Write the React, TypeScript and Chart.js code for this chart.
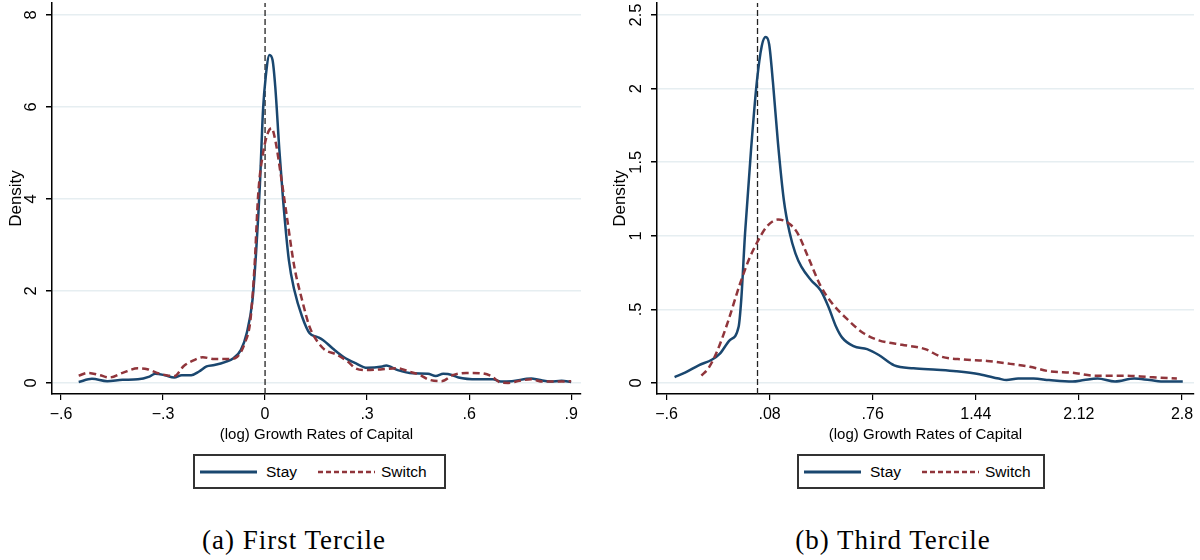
import React, { useEffect, useRef } from "react";
import { Chart, registerables } from "chart.js";

Chart.register(...registerables);

// ---------- Data: panel (a) First Tercile ----------
const stayAX = [-0.548, -0.509, -0.464, -0.419, -0.374, -0.34, -0.323, -0.295, -0.267, -0.245, -0.217, -0.194, -0.172, -0.149, -0.116, -0.093, -0.071, -0.054, -0.037, -0.026, -0.015, -0.006, 0.002, 0.013, 0.022, 0.03, 0.042, 0.053, 0.07, 0.086, 0.109, 0.131, 0.154, 0.171, 0.199, 0.232, 0.266, 0.3, 0.345, 0.356, 0.39, 0.434, 0.479, 0.502, 0.524, 0.552, 0.569, 0.625, 0.67, 0.693, 0.726, 0.783, 0.805, 0.839, 0.872, 0.9];
const stayAY = [0.02, 0.09, 0.04, 0.07, 0.08, 0.14, 0.2, 0.17, 0.12, 0.17, 0.17, 0.25, 0.36, 0.39, 0.46, 0.54, 0.72, 1.08, 1.8, 2.89, 4.34, 5.93, 6.66, 7.13, 7.02, 6.44, 5.07, 3.98, 2.67, 2.02, 1.44, 1.08, 1.0, 0.93, 0.75, 0.56, 0.43, 0.33, 0.36, 0.38, 0.28, 0.21, 0.2, 0.15, 0.2, 0.17, 0.12, 0.08, 0.08, 0.03, 0.04, 0.1, 0.07, 0.03, 0.05, 0.02];
const switchAX = [-0.548, -0.52, -0.486, -0.458, -0.419, -0.374, -0.346, -0.318, -0.284, -0.267, -0.239, -0.205, -0.183, -0.149, -0.104, -0.082, -0.06, -0.043, -0.031, -0.02, -0.006, 0.008, 0.019, 0.03, 0.047, 0.064, 0.086, 0.109, 0.131, 0.154, 0.176, 0.21, 0.244, 0.266, 0.3, 0.345, 0.39, 0.423, 0.457, 0.479, 0.519, 0.552, 0.592, 0.637, 0.665, 0.693, 0.715, 0.749, 0.783, 0.816, 0.85, 0.9];
const switchAY = [0.16, 0.22, 0.17, 0.12, 0.22, 0.32, 0.3, 0.22, 0.16, 0.15, 0.37, 0.51, 0.56, 0.52, 0.52, 0.57, 0.86, 1.37, 2.53, 4.12, 4.99, 5.43, 5.54, 5.28, 4.49, 3.62, 2.53, 1.8, 1.22, 0.9, 0.72, 0.62, 0.46, 0.32, 0.28, 0.3, 0.32, 0.25, 0.17, 0.08, 0.04, 0.17, 0.22, 0.21, 0.15, 0.01, 0.0, 0.05, 0.08, 0.03, 0.03, 0.04];
const xTicksA = [-0.6, -0.3, 0, 0.3, 0.6, 0.9];
const xLabelsA = ["\u2212.6", "\u2212.3", "0", ".3", ".6", ".9"];
const yTicksA = [0, 2, 4, 6, 8];
const yLabelsA = ["0", "2", "4", "6", "8"];

// ---------- Data: panel (b) Third Tercile ----------
const stayBX = [-0.547, -0.478, -0.388, -0.299, -0.248, -0.184, -0.125, -0.107, -0.082, -0.043, -0.005, 0.028, 0.054, 0.077, 0.102, 0.135, 0.174, 0.212, 0.25, 0.289, 0.352, 0.416, 0.467, 0.519, 0.557, 0.633, 0.723, 0.8, 0.902, 1.029, 1.183, 1.31, 1.464, 1.591, 1.642, 1.719, 1.821, 1.923, 2.077, 2.153, 2.243, 2.358, 2.485, 2.587, 2.69, 2.805];
const stayBY = [0.04, 0.07, 0.12, 0.16, 0.2, 0.29, 0.38, 0.57, 1.02, 1.58, 2.04, 2.29, 2.35, 2.3, 2.04, 1.63, 1.24, 1.02, 0.88, 0.79, 0.7, 0.63, 0.52, 0.38, 0.31, 0.25, 0.23, 0.19, 0.12, 0.1, 0.09, 0.08, 0.06, 0.03, 0.02, 0.03, 0.03, 0.02, 0.01, 0.02, 0.03, 0.01, 0.03, 0.02, 0.01, 0.01];
const switchBX = [-0.37, -0.324, -0.273, -0.197, -0.12, -0.056, 0, 0.059, 0.135, 0.199, 0.263, 0.34, 0.416, 0.493, 0.595, 0.697, 0.8, 0.953, 1.106, 1.208, 1.361, 1.515, 1.668, 1.796, 1.923, 2.077, 2.23, 2.409, 2.587, 2.766];
const switchBY = [0.05, 0.1, 0.2, 0.41, 0.66, 0.84, 0.96, 1.06, 1.11, 1.09, 1.02, 0.84, 0.66, 0.54, 0.43, 0.34, 0.29, 0.26, 0.23, 0.18, 0.16, 0.15, 0.13, 0.11, 0.08, 0.07, 0.05, 0.05, 0.04, 0.03];
const xTicksB = [-0.6, 0.08, 0.76, 1.44, 2.12, 2.8];
const xLabelsB = ["\u2212.6", ".08", ".76", "1.44", "2.12", "2.8"];
const yTicksB = [0, 0.5, 1, 1.5, 2, 2.5];
const yLabelsB = ["0", ".5", "1", "1.5", "2", "2.5"];

const seriesNames = ["Stay", "Switch"];
const xTitle = "(log) Growth Rates of Capital";
const yTitle = "Density";
const captions = ["(a) First Tercile", "(b) Third Tercile"];

const NAVY = "#1a476f";
const MAROON = "#90353b";
const SANS = "'Liberation Sans', Arial, Helvetica, sans-serif";
const SERIF = "'Liberation Serif', 'Times New Roman', serif";

type PanelProps = {
  left: number;
  yAxisWidth: number;
  rightPad: number;
  titlePad: number;
  xMin: number;
  xMax: number;
  yMin: number;
  yMax: number;
  stayX: number[];
  stayY: number[];
  switchX: number[];
  switchY: number[];
  xTicks: number[];
  xLabels: string[];
  yTicks: number[];
  yLabels: string[];
};

function Panel(p: PanelProps) {
  const ref = useRef<HTMLCanvasElement | null>(null);
  useEffect(() => {
    if (!ref.current) return;
    const rotYLabels = {
      id: "rotYLabels",
      afterDraw(chart: any) {
        const ys = chart.scales.y;
        const ctx = chart.ctx;
        ctx.save();
        ctx.fillStyle = "#000";
        ctx.font = `16.5px ${SANS}`;
        ctx.textAlign = "center";
        ctx.textBaseline = "middle";
        p.yTicks.forEach((v, i) => {
          const py = ys.getPixelForValue(v);
          ctx.save();
          ctx.translate(ys.right - 21, py);
          ctx.rotate(-Math.PI / 2);
          ctx.fillText(p.yLabels[i], 0, 0);
          ctx.restore();
        });
        ctx.restore();
      },
    };
    const chart = new Chart(ref.current, {
      type: "line",
      data: {
        datasets: [
          {
            label: seriesNames[1],
            data: p.switchX.map((x, i) => ({ x, y: p.switchY[i] })),
            borderColor: MAROON,
            borderWidth: 2.5,
            borderDash: [7, 4],
            pointRadius: 0,
            cubicInterpolationMode: "monotone",
            fill: false,
            order: 0,
          },
          {
            label: seriesNames[0],
            data: p.stayX.map((x, i) => ({ x, y: p.stayY[i] })),
            borderColor: NAVY,
            borderWidth: 2.5,
            pointRadius: 0,
            cubicInterpolationMode: "monotone",
            fill: false,
            order: 1,
          },
          {
            label: "zero",
            data: [
              { x: 0, y: p.yMin },
              { x: 0, y: p.yMax },
            ],
            borderColor: "#222",
            borderWidth: 1.3,
            borderDash: [6, 3],
            pointRadius: 0,
            fill: false,
            order: 2,
          },
        ],
      },
      options: {
        animation: false,
        responsive: false,
        maintainAspectRatio: false,
        layout: { padding: { top: 3, right: p.rightPad, left: 0, bottom: 0 } },
        plugins: { legend: { display: false }, tooltip: { enabled: false } },
        scales: {
          x: {
            type: "linear",
            min: p.xMin,
            max: p.xMax,
            afterBuildTicks: (s: any) => {
              s.ticks = p.xTicks.map((v) => ({ value: v }));
            },
            afterFit: (s: any) => {
              s.height = 56;
            },
            ticks: {
              autoSkip: false,
              maxRotation: 0,
              minRotation: 0,
              padding: 5,
              color: "#000",
              font: { family: SANS, size: 16 },
              callback: (v: any) => {
                const i = p.xTicks.findIndex((t) => Math.abs(t - v) < 1e-9);
                return i >= 0 ? p.xLabels[i] : "";
              },
            },
            grid: { drawOnChartArea: false, drawTicks: true, tickLength: 6, tickColor: "#000", lineWidth: 1.2 },
            border: { display: true, color: "#000", width: 1.5 },
            title: {
              display: true,
              text: xTitle,
              color: "#000",
              font: { family: SANS, size: 15 },
              padding: { top: 0, bottom: 6 },
            },
          },
          y: {
            type: "linear",
            min: p.yMin,
            max: p.yMax,
            afterBuildTicks: (s: any) => {
              s.ticks = p.yTicks.map((v) => ({ value: v }));
            },
            afterFit: (s: any) => {
              s.width = p.yAxisWidth;
            },
            ticks: { display: false },
            grid: { color: "#e6eef1", lineWidth: 1.5, drawTicks: true, tickLength: 6, tickColor: "#000" },
            border: { display: true, color: "#000", width: 1.5 },
            title: {
              display: true,
              text: yTitle,
              color: "#000",
              font: { family: SANS, size: 17 },
              padding: { top: p.titlePad, bottom: 0 },
            },
          },
        },
      },
      plugins: [rotYLabels],
    } as any);
    return () => chart.destroy();
  }, []);
  return (
    <canvas
      ref={ref}
      width={600}
      height={450}
      style={{ position: "absolute", left: p.left, top: 0, width: 600, height: 450 }}
    />
  );
}

function Legend({ left, width }: { left: number; width: number }) {
  return (
    <div
      style={{
        position: "absolute",
        left,
        top: 454,
        width,
        height: 35,
        boxSizing: "border-box",
        border: "2px solid #333",
        background: "#fff",
        fontFamily: SANS,
        fontSize: 15.5,
        color: "#000",
      }}
    >
      <svg width={60} height={10} style={{ position: "absolute", left: 5, top: 11 }}>
        <line x1={0} y1={5} x2={57} y2={5} stroke={NAVY} strokeWidth={3} />
      </svg>
      <span style={{ position: "absolute", left: 71, top: 7, lineHeight: "18px" }}>{seriesNames[0]}</span>
      <svg width={60} height={10} style={{ position: "absolute", left: 123, top: 11 }}>
        <line x1={0} y1={5} x2={57} y2={5} stroke={MAROON} strokeWidth={2.5} strokeDasharray="5 3" />
      </svg>
      <span style={{ position: "absolute", left: 186, top: 7, lineHeight: "18px" }}>{seriesNames[1]}</span>
    </div>
  );
}

function Caption({ center, text }: { center: number; text: string }) {
  return (
    <div
      style={{
        position: "absolute",
        left: center - 150,
        width: 300,
        top: 524,
        lineHeight: "32px",
        textAlign: "center",
        fontFamily: SERIF,
        fontSize: 27,
        letterSpacing: 1,
        color: "#000",
      }}
    >
      {text}
    </div>
  );
}

export default function App() {
  return (
    <div style={{ position: "absolute", left: 0, top: 0, width: 1200, height: 560, background: "#fff", overflow: "hidden" }}>
      <Panel
        left={0}
        yAxisWidth={52}
        rightPad={19}
        titlePad={6}
        xMin={-0.6265}
        xMax={0.929}
        yMin={-0.239}
        yMax={8.26}
        stayX={stayAX}
        stayY={stayAY}
        switchX={switchAX}
        switchY={switchAY}
        xTicks={xTicksA}
        xLabels={xLabelsA}
        yTicks={yTicksA}
        yLabels={yLabelsA}
      />
      <Panel
        left={600}
        yAxisWidth={57}
        rightPad={6}
        titlePad={10}
        xMin={-0.663}
        xMax={2.879}
        yMin={-0.0747}
        yMax={2.5815}
        stayX={stayBX}
        stayY={stayBY}
        switchX={switchBX}
        switchY={switchBY}
        xTicks={xTicksB}
        xLabels={xLabelsB}
        yTicks={yTicksB}
        yLabels={yLabelsB}
      />
      <Legend left={193} width={253} />
      <Legend left={797} width={248} />
      <Caption center={294} text={captions[0]} />
      <Caption center={893} text={captions[1]} />
    </div>
  );
}
